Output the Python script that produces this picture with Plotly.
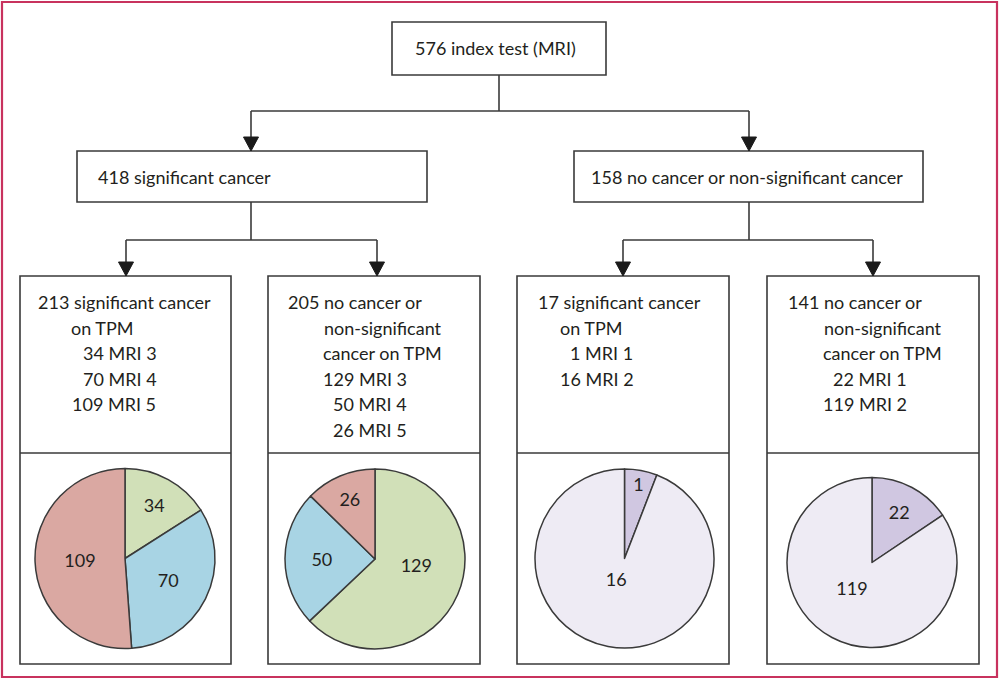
import plotly.graph_objects as go

# ---- data -------------------------------------------------------------
root_label = "576 index test (MRI)"
branch_labels = ["418 significant cancer",
                 "158 no cancer or non-significant cancer"]

leaf_lines = [
    ["213 significant cancer", "on TPM", "34 MRI 3", "70 MRI 4", "109 MRI 5"],
    ["205 no cancer or", "non-significant", "cancer on TPM",
     "129 MRI 3", "50 MRI 4", "26 MRI 5"],
    ["17 significant cancer", "on TPM", "1 MRI 1", "16 MRI 2"],
    ["141 no cancer or", "non-significant", "cancer on TPM",
     "22 MRI 1", "119 MRI 2"],
]

pie_labels = [["MRI 3", "MRI 4", "MRI 5"],
              ["MRI 3", "MRI 4", "MRI 5"],
              ["MRI 1", "MRI 2"],
              ["MRI 1", "MRI 2"]]
pie_values = [[34, 70, 109],
              [129, 50, 26],
              [1, 16],
              [22, 119]]

# ---- styling ----------------------------------------------------------
W, H = 1000, 680
FONT = "Lato"
FS = 18
TXT = "#231f20"
EDGE = "#3a3a3a"
FRAME = "#c8325e"
slice_colors = {"MRI 1": "#d0c7e1", "MRI 2": "#eeebf4", "MRI 3": "#d1e0b8",
                "MRI 4": "#a8d4e4", "MRI 5": "#daa8a2"}

# blank lines appended under a slice value lift it towards the pie centre
label_lift = [[0, 0, 0], [1, 0, 0], [0, 2], [0, 1]]

# layout geometry (pixel space, y downward)
root_box = (392, 22, 606, 75)
branch_boxes = [(77, 151, 427, 202), (574, 151, 923, 202)]
branch_text_x = [96, 589]
leaf_x = [(20, 231), (268, 480), (517, 729), (767, 979)]
leaf_top, leaf_div, leaf_bot = 276, 453, 664
leaf_indent = [
    [36, 69, 81, 81, 70],
    [286, 322, 321, 321, 331, 331],
    [536, 558, 568, 558],
    [786, 822, 821, 831, 821],
]
line_y0, line_dy = 302, 25.5
pie_geom = [(125, 558.5, 90), (375, 559, 90), (624.5, 558.5, 89.5), (872, 562.5, 85)]

fig = go.Figure()
# invisible cartesian layer so shapes/annotations can use pixel coordinates
fig.add_trace(go.Scatter(x=[], y=[], showlegend=False, hoverinfo="skip"))

shapes = []
annotations = []


def rect(x0, y0, x1, y1, width=1.6, color=EDGE):
    shapes.append(dict(type="rect", x0=x0, y0=y0, x1=x1, y1=y1,
                       line=dict(color=color, width=width), layer="below"))


def seg(x0, y0, x1, y1):
    shapes.append(dict(type="line", x0=x0, y0=y0, x1=x1, y1=y1,
                       line=dict(color=EDGE, width=1.6)))


def arrow_down(x, y_from, y_tip, hw=7.5, hh=14):
    seg(x, y_from, x, y_tip - hh)
    shapes.append(dict(type="path",
                       path=f"M {x-hw},{y_tip-hh} L {x+hw},{y_tip-hh} L {x},{y_tip} Z",
                       fillcolor="#1a1a1a", line=dict(color="#1a1a1a", width=1)))


def text(x, y, s, anchor="left"):
    annotations.append(dict(x=x, y=y, text=s, showarrow=False, xanchor=anchor,
                            yanchor="middle", font=dict(family=FONT, size=FS, color=TXT)))


# outer frame
rect(2, 2, 997, 677, width=2.2, color=FRAME)

# root
rect(*root_box)
text(495, 48, root_label, anchor="center")
root_cx = 499
seg(root_cx, root_box[3], root_cx, 111)
branch_cx = [251, 749]
seg(branch_cx[0], 111, branch_cx[1], 111)

# branches
leaf_arrow_x = [[126, 377], [623, 873]]
for i, box in enumerate(branch_boxes):
    arrow_down(branch_cx[i], 111, box[1])
    rect(*box)
    text(branch_text_x[i], 177, branch_labels[i])
    seg(branch_cx[i], box[3], branch_cx[i], 240)
    seg(leaf_arrow_x[i][0], 240, leaf_arrow_x[i][1], 240)
    for ax in leaf_arrow_x[i]:
        arrow_down(ax, 240, leaf_top)

# leaves
for j, (x0, x1) in enumerate(leaf_x):
    rect(x0, leaf_top, x1, leaf_bot)
    seg(x0, leaf_div, x1, leaf_div)
    for k, line in enumerate(leaf_lines[j]):
        text(leaf_indent[j][k], line_y0 + k * line_dy, line)

# pies
for j, (labels, vals) in enumerate(zip(pie_labels, pie_values)):
    cx, cy, r = pie_geom[j]
    templates = ["%{value}" + "<br>\u00a0" * n for n in label_lift[j]]
    fig.add_trace(go.Pie(
        labels=labels, values=vals, sort=False, direction="clockwise", rotation=0,
        marker=dict(colors=[slice_colors[l] for l in labels],
                    line=dict(color=EDGE, width=1.5)),
        texttemplate=templates, textposition="inside",
        insidetextorientation="horizontal",
        textfont=dict(family=FONT, size=FS, color=TXT),
        domain=dict(x=[(cx - r) / W, (cx + r) / W],
                    y=[1 - (cy + r) / H, 1 - (cy - r) / H]),
        showlegend=False, hoverinfo="label+value",
    ))

fig.update_layout(
    width=W, height=H, margin=dict(l=0, r=0, t=0, b=0),
    paper_bgcolor="white", plot_bgcolor="white",
    xaxis=dict(range=[0, W], visible=False, fixedrange=True),
    yaxis=dict(range=[H, 0], visible=False, fixedrange=True),
    shapes=shapes, annotations=annotations,
    uniformtext=dict(minsize=FS, mode="show"),
    showlegend=False,
)

fig.write_html("out.html")
